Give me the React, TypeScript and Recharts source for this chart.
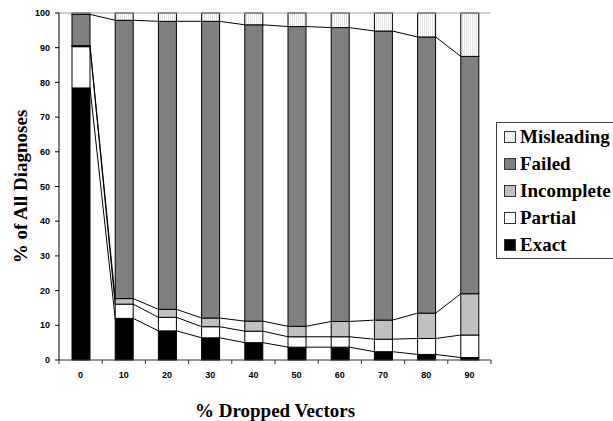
import { BarChart, Bar, XAxis, YAxis, ReferenceLine, Label } from "recharts";

const categories = ["0", "10", "20", "30", "40", "50", "60", "70", "80", "90"];
const exact = [78.4, 12.0, 8.4, 6.4, 5.0, 3.7, 3.7, 2.4, 1.6, 0.7];
const partial = [11.9, 4.1, 3.9, 3.2, 3.3, 3.0, 3.0, 3.6, 4.6, 6.5];
const incomplete = [0.3, 1.6, 2.3, 2.5, 2.9, 3.0, 4.4, 5.5, 7.3, 11.9];
const failed = [9.0, 80.2, 83.0, 85.5, 85.4, 86.4, 84.7, 83.3, 79.6, 68.4];
const misleading = [0.4, 2.1, 2.4, 2.4, 3.4, 3.9, 4.2, 5.2, 6.9, 12.5];
const yTicks = [0, 10, 20, 30, 40, 50, 60, 70, 80, 90, 100];

const SERIF = "'Liberation Serif', 'Times New Roman', serif";
const SANS = "'Liberation Sans', Arial, sans-serif";

// bottom to top in the stack; `join` draws the series lines between bars
const SERIES = [
  { key: "exact", name: "Exact", fill: "#000000", swatch: "#000000", join: true },
  { key: "partial", name: "Partial", fill: "#ffffff", swatch: "#ffffff", join: true },
  { key: "incomplete", name: "Incomplete", fill: "#c0c0c0", swatch: "#c0c0c0", join: true },
  { key: "failed", name: "Failed", fill: "#808080", swatch: "#808080", join: true },
  { key: "misleading", name: "Misleading", fill: "url(#dots)", swatch: "#f0f0f0", join: false },
];

const rows = categories.map((label, i) => ({
  label,
  exact: exact[i],
  partial: partial[i],
  incomplete: incomplete[i],
  failed: failed[i],
  misleading: misleading[i],
}));

// top-right corner of each segment, filled in render order so bar i can
// connect back to bar i-1
const tops: Record<string, { right: number; top: number }[]> = {};

function segmentShape(key: string, fill: string, join: boolean) {
  return (props: any) => {
    const { x, y, width, height, index } = props;
    const row = (tops[key] ||= []);
    row[index] = { right: x + width, top: y };
    const prev = index > 0 ? row[index - 1] : undefined;
    return (
      <g>
        <rect x={x} y={y} width={width} height={height} fill={fill} stroke="#000" strokeWidth={1} />
        {join && prev && (
          <line x1={prev.right} y1={prev.top} x2={x} y2={y} stroke="#000" strokeWidth={1} />
        )}
      </g>
    );
  };
}

const shapes = Object.fromEntries(SERIES.map((s) => [s.key, segmentShape(s.key, s.fill, s.join)]));

// category label in the middle, tick marks on the category boundaries
function CategoryTick(props: any) {
  const { x, y, payload, index, visibleTicksCount, width } = props;
  const half = payload.offset ?? width / visibleTicksCount / 2;
  const last = index === visibleTicksCount - 1;
  return (
    <g>
      <line x1={x - half} y1={y - 4} x2={x - half} y2={y} stroke="#333" />
      {last && <line x1={x + half} y1={y - 4} x2={x + half} y2={y} stroke="#333" />}
      <text x={x} y={y + 14} textAnchor="middle" fontFamily={SANS} fontWeight="bold" fontSize={9} fill="#000">
        {payload.value}
      </text>
    </g>
  );
}

function YTitle(props: any) {
  const vb = props.viewBox;
  const cx = 27;
  const cy = vb.y + vb.height / 2;
  return (
    <text
      x={cx}
      y={cy}
      transform={`rotate(-90 ${cx} ${cy})`}
      textAnchor="middle"
      fontFamily={SERIF}
      fontWeight="bold"
      fontSize={19}
      fill="#000"
    >
      % of All Diagnoses
    </text>
  );
}

function LegendBox() {
  const items = [...SERIES].reverse();
  return (
    <div
      style={{
        position: "absolute",
        left: 496,
        top: 122,
        width: 140,
        height: 135,
        border: "1px solid #404040",
        background: "#fff",
      }}
    >
      {items.map((s) => (
        <div key={s.key} style={{ display: "flex", alignItems: "center", height: 27, paddingLeft: 7 }}>
          <span
            style={{
              display: "inline-block",
              width: 12,
              height: 12,
              boxSizing: "border-box",
              border: "1px solid #333",
              background: s.swatch,
              marginRight: 4,
            }}
          />
          <span style={{ fontFamily: SERIF, fontWeight: "bold", fontSize: 19, lineHeight: "27px", color: "#000" }}>
            {s.name}
          </span>
        </div>
      ))}
    </div>
  );
}

export default function App() {
  return (
    <div
      style={{
        position: "absolute",
        left: 0,
        top: 0,
        width: 613,
        height: 421,
        overflow: "hidden",
        background: "#fff",
      }}
    >
      <BarChart width={613} height={421} data={rows} margin={{ top: 13, right: 122, bottom: 0, left: 0 }} barSize={18}>
        <defs>
          <pattern id="dots" width="2" height="2" patternUnits="userSpaceOnUse">
            <rect width="2" height="2" fill="#ffffff" />
            <rect width="1" height="2" fill="#e2e2e2" />
          </pattern>
        </defs>
        <XAxis
          dataKey="label"
          height={61}
          interval={0}
          tickLine={false}
          tickSize={4}
          tickMargin={0}
          axisLine={{ stroke: "#333" }}
          tick={<CategoryTick />}
        >
          <Label
            value="% Dropped Vectors"
            position="insideBottom"
            offset={4}
            fontFamily={SERIF}
            fontWeight="bold"
            fontSize={19}
            fill="#000"
          />
        </XAxis>
        <YAxis
          width={59}
          domain={[0, 100]}
          ticks={yTicks}
          interval={0}
          tickSize={4}
          tickMargin={5}
          axisLine={{ stroke: "#000" }}
          tickLine={{ stroke: "#000" }}
          tick={{ fontFamily: SANS, fontWeight: "bold", fontSize: 9, fill: "#000" }}
        >
          <Label content={<YTitle />} />
        </YAxis>
        <YAxis yAxisId="frame" orientation="right" width={0} tick={false} tickLine={false} axisLine={{ stroke: "#a0a0a0" }} />
        <ReferenceLine y={100} stroke="#a0a0a0" />
        {SERIES.map((s) => (
          <Bar key={s.key} dataKey={s.key} name={s.name} stackId="all" fill={s.fill} shape={shapes[s.key]} isAnimationActive={false} />
        ))}
      </BarChart>
      <LegendBox />
    </div>
  );
}
